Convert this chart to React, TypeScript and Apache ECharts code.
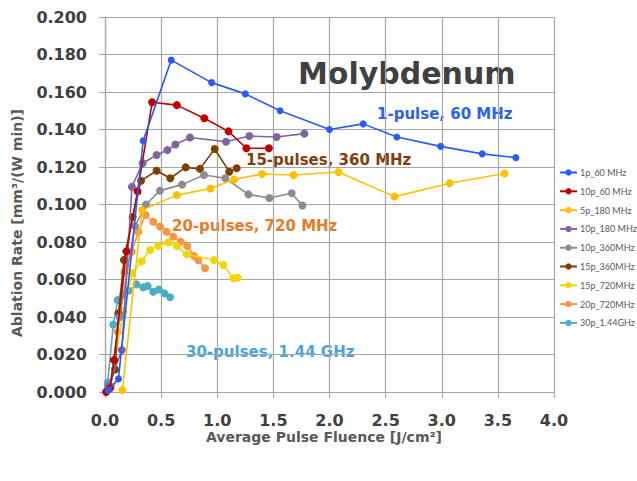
import React, { useEffect, useRef } from "react";
import * as echarts from "echarts";

// Ablation rate vs. average pulse fluence for molybdenum, [fluence J/cm², rate mm³/(W min)]
const p1_60MHz: number[][] = [
  [0.03, 0.001], [0.12, 0.007], [0.34, 0.134], [0.59, 0.177], [0.95, 0.165],
  [1.25, 0.159], [1.56, 0.150], [2.0, 0.140], [2.3, 0.143], [2.6, 0.136],
  [2.99, 0.131], [3.36, 0.127], [3.66, 0.125],
];
const p10_60MHz: number[][] = [
  [0.01, 0.0], [0.045, 0.002], [0.08, 0.017], [0.19, 0.075], [0.29, 0.107],
  [0.42, 0.1545], [0.64, 0.153], [0.885, 0.146], [1.10, 0.139], [1.26, 0.130],
  [1.46, 0.130],
];
const p5_180MHz: number[][] = [
  [0.155, 0.001], [0.33, 0.097], [0.64, 0.105], [0.94, 0.1085], [1.15, 0.1133],
  [1.40, 0.1163], [1.68, 0.1157], [2.08, 0.1173], [2.58, 0.1042], [3.07, 0.1113],
  [3.56, 0.1165],
];
const p10_180MHz: number[][] = [
  [0.03, 0.003], [0.15, 0.0224], [0.24, 0.1095], [0.336, 0.122], [0.46, 0.1264],
  [0.555, 0.129], [0.627, 0.132], [0.757, 0.1357], [1.078, 0.1335], [1.286, 0.1365],
  [1.529, 0.136], [1.776, 0.1378],
];
const p10_360MHz: number[][] = [
  [0.05, 0.003], [0.13, 0.04], [0.267, 0.0885], [0.365, 0.1], [0.49, 0.1074],
  [0.686, 0.1106], [0.882, 0.1157], [1.072, 0.114], [1.277, 0.1054], [1.464, 0.1035],
  [1.663, 0.106], [1.758, 0.0995],
];
const p15_360MHz: number[][] = [
  [0.03, 0.002], [0.09, 0.012], [0.12, 0.042], [0.169, 0.0704], [0.246, 0.0933],
  [0.321, 0.1127], [0.46, 0.118], [0.582, 0.114], [0.719, 0.1198], [0.846, 0.119],
  [0.977, 0.1296], [1.107, 0.1175], [1.173, 0.1193],
];
const p15_720MHz: number[][] = [
  [0.05, 0.003], [0.163, 0.043], [0.243, 0.0633], [0.327, 0.0697], [0.401, 0.0757],
  [0.475, 0.078], [0.564, 0.0798], [0.639, 0.0778], [0.728, 0.0734], [0.971, 0.0704],
  [1.054, 0.0677], [1.143, 0.0606], [1.182, 0.061],
];
const p20_720MHz: number[][] = [
  [0.04, 0.002], [0.113, 0.032], [0.172, 0.064], [0.238, 0.0748], [0.297, 0.0855],
  [0.362, 0.0944], [0.43, 0.0908], [0.49, 0.0882], [0.549, 0.0855], [0.609, 0.0828],
  [0.674, 0.0802], [0.733, 0.0779], [0.793, 0.0725], [0.831, 0.0704], [0.891, 0.066],
];
const p30_1_44GHz: number[][] = [
  [0.024, 0.005], [0.074, 0.036], [0.113, 0.049], [0.163, 0.052], [0.21, 0.054],
  [0.28, 0.0574], [0.34, 0.0558], [0.38, 0.0565], [0.43, 0.0535], [0.48, 0.0547],
  [0.53, 0.0526], [0.58, 0.0505],
];

const seriesNames = [
  "1p_60 MHz", "10p_60 MHz", "5p_180 MHz", "10p_180 MHz", "10p_360MHz",
  "15p_360MHz", "15p_720MHz", "20p_720MHz", "30p_1.44GHz",
];
const seriesData = [
  p1_60MHz, p10_60MHz, p5_180MHz, p10_180MHz, p10_360MHz,
  p15_360MHz, p15_720MHz, p20_720MHz, p30_1_44GHz,
];
const seriesColors = [
  "#2a5cf5", "#c00000", "#ffc000", "#8064a2", "#8c8c8c",
  "#7f3f00", "#f2d600", "#f79646", "#4bacc6",
];

// Text annotations placed in the plot
const annotations = [
  { text: "1-pulse, 60 MHz", x: 377, y: 114, color: "#2a62f0" },
  { text: "15-pulses, 360 MHz", x: 246, y: 160, color: "#843c0c" },
  { text: "20-pulses, 720 MHz", x: 172, y: 226, color: "#ea7a26" },
  { text: "30-pulses, 1.44 GHz", x: 186, y: 352, color: "#4aa3e0" },
];

const FONT = "'DejaVu Sans', sans-serif";
const LEGEND_FONT = "Lato, 'Liberation Sans', sans-serif";

export default function App() {
  const ref = useRef<HTMLDivElement>(null);

  useEffect(() => {
    if (!ref.current) return;
    const chart = echarts.init(ref.current, undefined, { renderer: "svg" });

    const series = seriesNames.map((name, i) => ({
      name,
      type: "line",
      data: seriesData[i],
      symbol: "circle",
      symbolSize: i === 0 ? 7 : 8,
      lineStyle: { color: seriesColors[i], width: 1.6 },
      itemStyle: { color: seriesColors[i] },
      z: 10 - i,
    }));

    chart.setOption({
      animation: false,
      backgroundColor: "#ffffff",
      grid: { left: 105, right: 83, top: 17, bottom: 89, containLabel: false },
      xAxis: {
        type: "value",
        min: 0,
        max: 4,
        interval: 0.5,
        axisLine: { show: true, lineStyle: { color: "#a6a6a6", width: 1.2 } },
        axisTick: { show: true, length: 6, lineStyle: { color: "#a6a6a6" } },
        axisLabel: {
          fontFamily: FONT, fontSize: 16, fontWeight: "bold", color: "#404040", margin: 20,
          formatter: (v: number) => v.toFixed(1),
        },
        splitLine: { show: true, lineStyle: { color: "#a6a6a6", width: 1.2 } },
      },
      yAxis: {
        type: "value",
        min: 0,
        max: 0.2,
        interval: 0.02,
        axisLine: { show: true, lineStyle: { color: "#a6a6a6", width: 1.2 } },
        axisTick: { show: true, length: 6, lineStyle: { color: "#a6a6a6" } },
        axisLabel: {
          fontFamily: FONT, fontSize: 16, fontWeight: "bold", color: "#404040", margin: 18,
          formatter: (v: number) => v.toFixed(3),
        },
        splitLine: { show: true, lineStyle: { color: "#a6a6a6", width: 1.2 } },
      },
      legend: {
        orient: "vertical",
        left: 559,
        top: 168,
        padding: 0,
        itemGap: 9.8,
        itemWidth: 17,
        itemHeight: 8,
        data: seriesNames,
        textStyle: { fontFamily: LEGEND_FONT, fontSize: 9, color: "#595959", padding: [0, 0, 0, -2] },
      },
      graphic: [
        {
          type: "text", x: 298, y: 73,
          style: {
            text: "Molybdenum", font: `bold 30px ${FONT}`, fill: "#404040",
            verticalAlign: "middle",
          },
        },
        {
          type: "text", x: 17, y: 223, rotation: Math.PI / 2,
          style: {
            text: "Ablation Rate [mm³/(W min)]", font: `bold 14px ${FONT}`, fill: "#595959",
            align: "center", verticalAlign: "middle",
          },
        },
        {
          type: "text", x: 324, y: 437,
          style: {
            text: "Average Pulse Fluence [J/cm²]", font: `bold 14px ${FONT}`, fill: "#595959",
            align: "center", verticalAlign: "middle",
          },
        },
        ...annotations.map((a) => ({
          type: "text", x: a.x, y: a.y,
          style: { text: a.text, font: `bold 15px ${FONT}`, fill: a.color, verticalAlign: "middle" },
        })),
      ],
      series,
    });

    return () => chart.dispose();
  }, []);

  return <div ref={ref} style={{ width: 637, height: 481, position: "absolute", left: 0, top: 0 }} />;
}
